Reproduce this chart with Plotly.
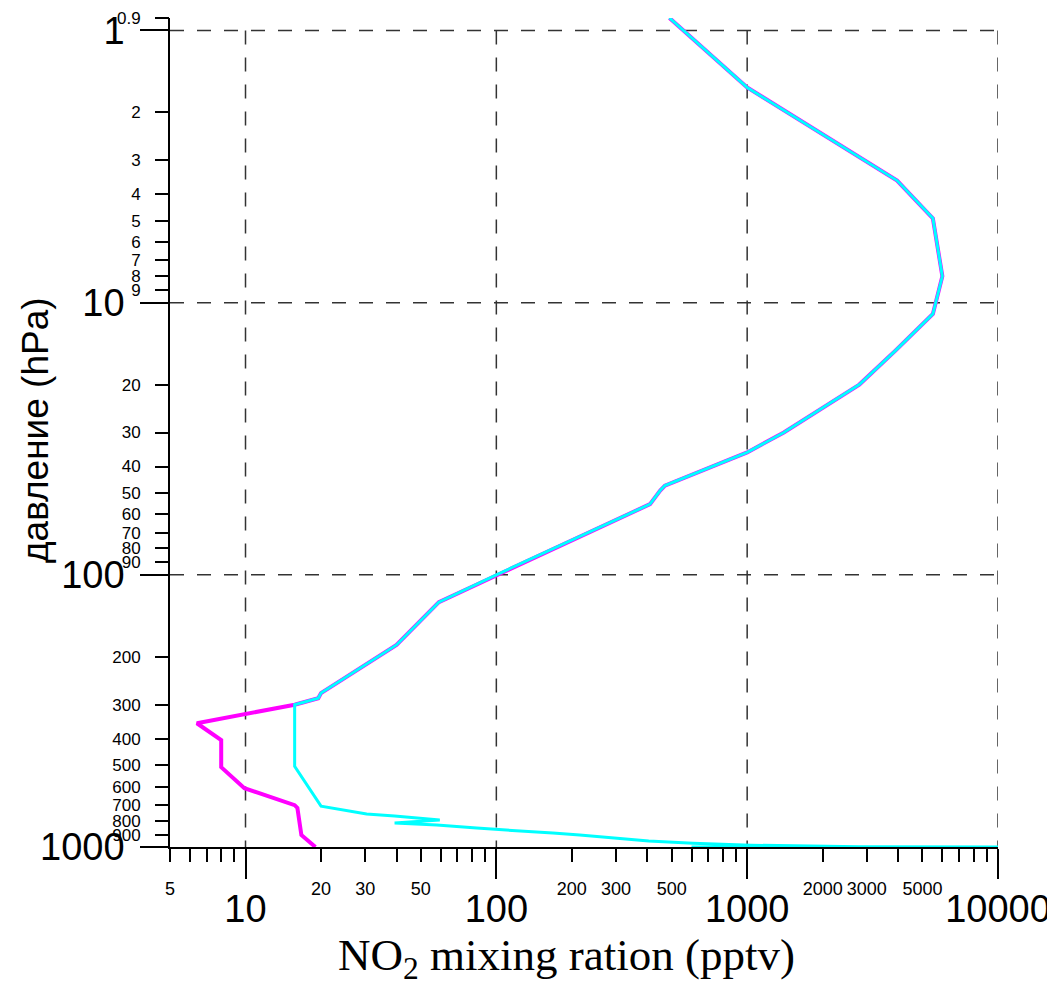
import math
import plotly.graph_objects as go

# ---------------- data ----------------
# magenta profile: pressure (hPa) vs NO2 mixing ratio (pptv)
magenta_x = [490, 1000, 3960, 5500, 6000, 5500, 3900, 2800, 1400, 1000, 470, 450, 410,
             100, 59, 40, 20, 19.5, 15.7, 6.4, 8, 8, 9.9, 15.7, 16.1, 16.7, 19]
magenta_p = [0.9, 1.62, 3.56, 4.9, 8, 11, 15, 20, 30, 35.5, 47, 49, 55,
             100, 126, 181, 272, 284, 300, 351, 405, 509, 608, 702, 718, 904, 1000]

# cyan profile
cyan_x = [490, 1000, 3960, 5500, 6000, 5500, 3900, 2800, 1400, 1000, 470, 450, 410,
          100, 59, 40, 20, 19.5, 15.7, 15.7, 20, 30.4, 39.3, 59.5, 39.3, 57.9, 83.5,
          116, 168, 215, 289, 405, 608, 1035, 2790, 10000, 600]
cyan_p = [0.9, 1.62, 3.56, 4.9, 8, 11, 15, 20, 30, 35.5, 47, 49, 55,
          100, 126, 181, 272, 284, 300, 505, 708, 757, 770, 796, 817, 831, 852,
          867, 889, 904, 928, 951, 968, 985, 998, 1000, 1000]

# axis ticks
x_range = [5, 10000]
x_major = [10, 100, 1000, 10000]
x_minor = [5, 6, 7, 8, 9, 20, 30, 40, 50, 60, 70, 80, 90,
           200, 300, 400, 500, 600, 700, 800, 900,
           2000, 3000, 4000, 5000, 6000, 7000, 8000, 9000]
x_minor_labeled = [5, 20, 30, 50, 200, 300, 500, 2000, 3000, 5000]

y_range = [0.9, 1000]
y_major = [1, 10, 100, 1000]
y_minor = [0.9, 2, 3, 4, 5, 6, 7, 8, 9, 20, 30, 40, 50, 60, 70, 80, 90,
           200, 300, 400, 500, 600, 700, 800, 900]

x_title = "NO<sub>2</sub> mixing ration (pptv)"
y_title = "давление (hPa)"

# ---------------- layout constants ----------------
W, H = 1055, 983
OFF = 8                      # page body margin
ML, MR, MT, MB = 162, 65, 10, 144
PW, PH = W - ML - MR, H - MT - MB

xr = [math.log10(v) for v in x_range]
yr = [math.log10(y_range[1]), math.log10(y_range[0])]  # reversed

sans = "Liberation Sans, Arial, sans-serif"


def fmt(v):
    return "%g" % v


def px_to_paper_x(px):
    return (px - OFF - ML) / PW


def px_to_paper_y(py):
    return (OFF + MT + PH - py) / PH


fig = go.Figure()
fig.add_trace(go.Scatter(x=magenta_x, y=magenta_p, mode="lines",
                         line=dict(color="#ff00ff", width=4), showlegend=False,
                         hoverinfo="skip"))
fig.add_trace(go.Scatter(x=cyan_x, y=cyan_p, mode="lines",
                         line=dict(color="#00ffff", width=3), showlegend=False,
                         hoverinfo="skip"))
# empty traces so the overlay axes (small labels) are drawn
fig.add_trace(go.Scatter(x=[], y=[], xaxis="x2", yaxis="y", showlegend=False))
fig.add_trace(go.Scatter(x=[], y=[], xaxis="x", yaxis="y2", showlegend=False))

# dashed grid lines built from the major ticks
grid = dict(color="#333333", width=1.5, dash="14px,13px")
for v in x_major:
    fig.add_shape(type="line", xref="x", yref="y", x0=v, x1=v,
                  y0=y_major[0], y1=y_major[-1], line=grid, layer="below")
for v in y_major[:-1]:
    fig.add_shape(type="line", xref="x", yref="y", x0=x_range[0], x1=x_range[1],
                  y0=v, y1=v, line=grid, layer="below")

common = dict(type="log", showgrid=False, zeroline=False, automargin=False,
              tickmode="array", tickwidth=1.5, tickcolor="black", ticks="outside",
              tickangle=0)

fig.update_layout(
    template="none",
    width=W, height=H,
    margin=dict(l=ML, r=MR, t=MT, b=MB, autoexpand=False),
    paper_bgcolor="white", plot_bgcolor="white",
    showlegend=False,
    xaxis=dict(common, range=xr,
               tickvals=x_major, ticktext=[fmt(v) for v in x_major],
               tickfont=dict(family=sans, size=38, color="black"),
               ticklen=30, showline=True, linecolor="black", linewidth=1.5,
               ticklabelstandoff=-2),
    xaxis2=dict(common, range=xr, overlaying="x", anchor="y", side="bottom",
                tickvals=x_minor,
                ticktext=[fmt(v) if v in x_minor_labeled else "" for v in x_minor],
                tickfont=dict(family=sans, size=18, color="black"),
                ticklen=14, showline=False, ticklabelstandoff=11),
    yaxis=dict(common, range=yr,
               tickvals=y_major, ticktext=[fmt(v) for v in y_major],
               tickfont=dict(family=sans, size=38, color="black"),
               ticklen=28, showline=True, linecolor="black", linewidth=1.5,
               ticklabelstandoff=8),
    yaxis2=dict(common, range=yr, overlaying="y", anchor="x", side="left",
                tickvals=y_minor, ticktext=[fmt(v) for v in y_minor],
                tickfont=dict(family=sans, size=17, color="black"),
                ticklen=14, showline=False, ticklabelstandoff=11),
)

fig.add_annotation(text=x_title, xref="paper", yref="paper",
                   x=px_to_paper_x(566), y=px_to_paper_y(958),
                   xanchor="center", yanchor="middle", showarrow=False,
                   font=dict(family="Liberation Serif, Times New Roman, serif",
                             size=45, color="black"))
fig.add_annotation(text=y_title, xref="paper", yref="paper",
                   x=px_to_paper_x(35), y=px_to_paper_y(430), textangle=-90,
                   xanchor="center", yanchor="middle", showarrow=False,
                   font=dict(family=sans, size=37, color="black"))

fig.write_html("out.html")
